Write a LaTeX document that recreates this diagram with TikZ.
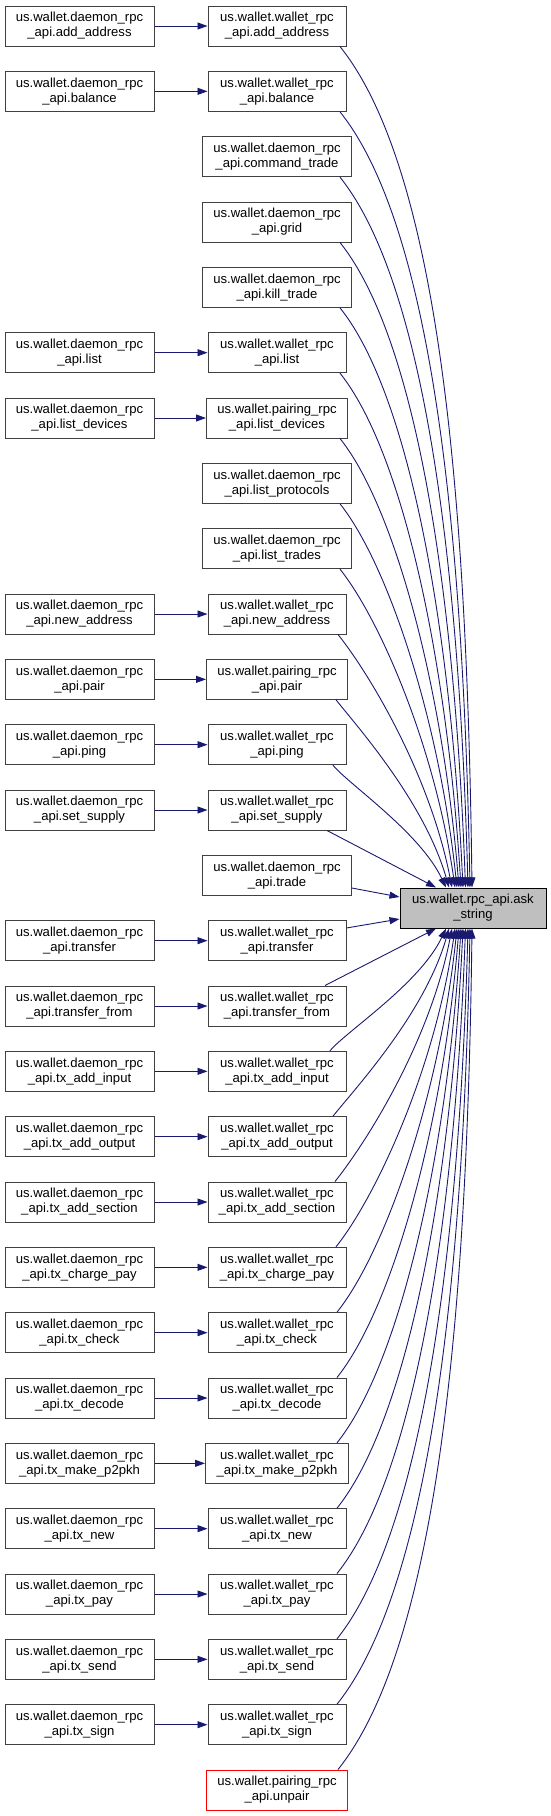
\documentclass[tikz,border=0pt]{standalone}
\usepackage{fontspec}
\setmainfont{Liberation Sans}
\usetikzlibrary{arrows.meta,calc}
\definecolor{edgec}{HTML}{191970}
\definecolor{boxc}{HTML}{404040}
\definecolor{askfill}{HTML}{BFBFBF}
\begin{document}
\begin{tikzpicture}[x=1pt,y=-1pt,
  box/.style={draw=boxc, line width=1pt, fill=white, minimum height=40pt, inner sep=0pt, align=center, font=\fontsize{13.1}{15}\selectfont},
  dbox/.style={box, minimum width=149pt},
  wbox/.style={box, minimum width=138pt},
  pbox/.style={box, minimum width=141pt},
  edge/.style={draw=edgec, line width=0.9pt, -{Triangle[length=10pt,width=7pt]}}
]
\useasboundingbox (0,0) rectangle (551,1816);

% target
\node[box, fill=askfill, draw=black, minimum width=146pt] (ask) at (473,908) {us.wallet.rpc\_api.ask\\\_string};

% middle column
\node[wbox] (m0) at (277,26) {us.wallet.wallet\_rpc\\\_api.add\_address};
\node[wbox] (m1) at (277,91.33) {us.wallet.wallet\_rpc\\\_api.balance};
\node[dbox] (m2) at (277,156.67) {us.wallet.daemon\_rpc\\\_api.command\_trade};
\node[dbox] (m3) at (277,222) {us.wallet.daemon\_rpc\\\_api.grid};
\node[dbox] (m4) at (277,287.33) {us.wallet.daemon\_rpc\\\_api.kill\_trade};
\node[wbox] (m5) at (277,352.67) {us.wallet.wallet\_rpc\\\_api.list};
\node[pbox] (m6) at (277,418) {us.wallet.pairing\_rpc\\\_api.list\_devices};
\node[dbox] (m7) at (277,483.33) {us.wallet.daemon\_rpc\\\_api.list\_protocols};
\node[dbox] (m8) at (277,548.67) {us.wallet.daemon\_rpc\\\_api.list\_trades};
\node[wbox] (m9) at (277,614) {us.wallet.wallet\_rpc\\\_api.new\_address};
\node[pbox] (m10) at (277,679.33) {us.wallet.pairing\_rpc\\\_api.pair};
\node[wbox] (m11) at (277,744.67) {us.wallet.wallet\_rpc\\\_api.ping};
\node[wbox] (m12) at (277,810) {us.wallet.wallet\_rpc\\\_api.set\_supply};
\node[dbox] (m13) at (277,875.33) {us.wallet.daemon\_rpc\\\_api.trade};
\node[wbox] (m14) at (277,940.67) {us.wallet.wallet\_rpc\\\_api.transfer};
\node[wbox] (m15) at (277,1006) {us.wallet.wallet\_rpc\\\_api.transfer\_from};
\node[wbox] (m16) at (277,1071.33) {us.wallet.wallet\_rpc\\\_api.tx\_add\_input};
\node[wbox] (m17) at (277,1136.67) {us.wallet.wallet\_rpc\\\_api.tx\_add\_output};
\node[wbox] (m18) at (277,1202) {us.wallet.wallet\_rpc\\\_api.tx\_add\_section};
\node[wbox] (m19) at (277,1267.33) {us.wallet.wallet\_rpc\\\_api.tx\_charge\_pay};
\node[wbox] (m20) at (277,1332.67) {us.wallet.wallet\_rpc\\\_api.tx\_check};
\node[wbox] (m21) at (277,1398) {us.wallet.wallet\_rpc\\\_api.tx\_decode};
\node[box, minimum width=143pt] (m22) at (277,1463.33) {us.wallet.wallet\_rpc\\\_api.tx\_make\_p2pkh};
\node[wbox] (m23) at (277,1528.67) {us.wallet.wallet\_rpc\\\_api.tx\_new};
\node[wbox] (m24) at (277,1594) {us.wallet.wallet\_rpc\\\_api.tx\_pay};
\node[wbox] (m25) at (277,1659.33) {us.wallet.wallet\_rpc\\\_api.tx\_send};
\node[wbox] (m26) at (277,1724.67) {us.wallet.wallet\_rpc\\\_api.tx\_sign};
\node[pbox, draw=red] (m27) at (277,1790) {us.wallet.pairing\_rpc\\\_api.unpair};

% left column
\foreach \i/\y/\t in {0/26/add\_address, 1/91.33/balance, 5/352.67/list, 6/418/list\_devices,
  9/614/new\_address, 10/679.33/pair, 11/744.67/ping, 12/810/set\_supply,
  14/940.67/transfer, 15/1006/transfer\_from, 16/1071.33/tx\_add\_input,
  17/1136.67/tx\_add\_output, 18/1202/tx\_add\_section, 19/1267.33/tx\_charge\_pay,
  20/1332.67/tx\_check, 21/1398/tx\_decode, 22/1463.33/tx\_make\_p2pkh,
  23/1528.67/tx\_new, 24/1594/tx\_pay, 25/1659.33/tx\_send, 26/1724.67/tx\_sign}
{
  \node[dbox] (l\i) at (79.5,\y) {us.wallet.daemon\_rpc\\\_api.\t};
  \draw[edge] (l\i) -- (m\i);
}

% upper edges into ask_string
\foreach \i/\off/\ex in {0/63/472, 1/63/470, 2/63/468, 3/63/465.5, 4/63/463, 5/63/461,
  6/63/459, 7/63/457, 8/63/455, 9/61/452, 10/59/449, 11/56/446}
{
  \pgfmathsetmacro{\h}{842-65.333*\i}
  \pgfmathsetmacro{\dx}{\ex-473}
  \pgfmathsetmacro{\kx}{\ex-473-(30-0.03*\h)}
  \draw[edge] ($(m\i.south)+(\off,0)$) .. controls ($(m\i.south)+(\off+0.12*\h,0.15*\h)$) and ($(ask.north)+(\kx,-0.45*\h)$) .. ($(ask.north)+(\dx,0)$);
}

% lower edges into ask_string
\foreach \j/\off/\ex in {27/61/472, 26/60/470, 25/60/468, 24/60/465.5, 23/60/463, 22/60/461,
  21/60/459, 20/60/457, 19/59/455, 18/58/452, 17/56/449, 16/53/446}
{
  \pgfmathsetmacro{\h}{65.333*\j-922}
  \pgfmathsetmacro{\dx}{\ex-473}
  \pgfmathsetmacro{\kx}{\ex-473-(30-0.03*\h)}
  \draw[edge] ($(m\j.north)+(\off,0)$) .. controls ($(m\j.north)+(\off+0.12*\h,-0.15*\h)$) and ($(ask.south)+(\kx,0.45*\h)$) .. ($(ask.south)+(\dx,0)$);
}

% nearly straight edges
\draw[edge] ($(m12.south)+(50,0)$) -- ($(ask.north)+(-37,0)$);
\draw[edge] ($(m15.north)+(48,0)$) -- ($(ask.south)+(-37,0)$);
\draw[edge] ($(m13.east)+(0,12.7)$) -- ($(ask.west)+(0,-11)$);
\draw[edge] ($(m14.east)+(0,-12.7)$) -- ($(ask.west)+(0,11)$);
\end{tikzpicture}
\end{document}
